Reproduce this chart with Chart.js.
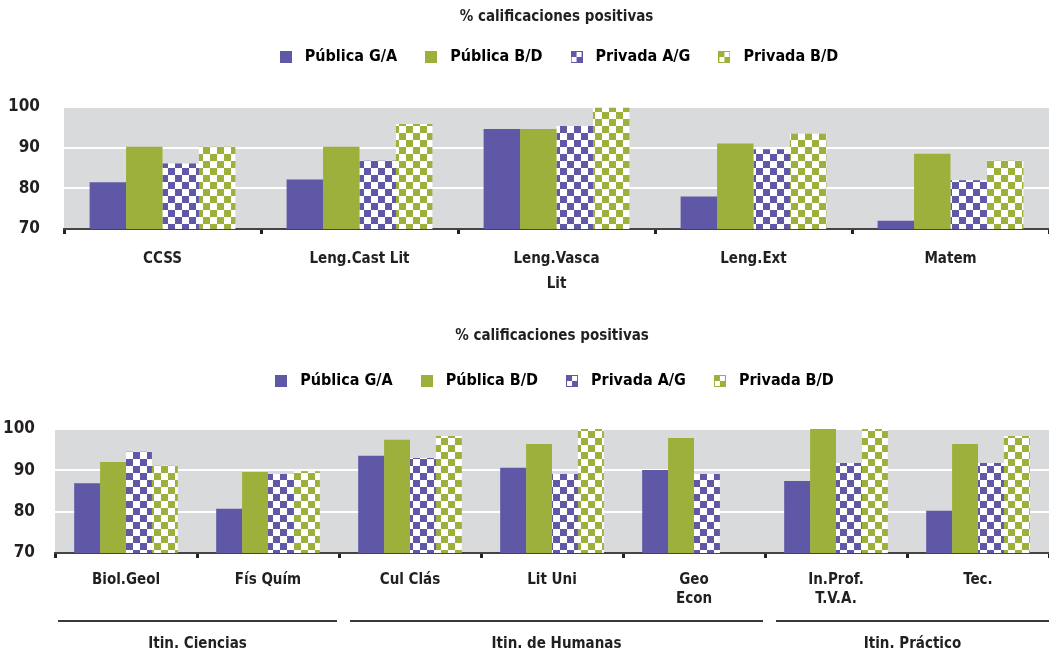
<!DOCTYPE html>
<html>
<head>
<meta charset="utf-8">
<script src="https://cdn.jsdelivr.net/npm/chart.js@4/dist/chart.umd.min.js"></script>
<style>
  html, body { margin: 0; padding: 0; background: #fff; }
  #wrap { position: relative; width: 1049px; height: 656px; }
  canvas { position: absolute; left: 0; }
  #top { top: 0; }
  #bottom { top: 319px; }
</style>
</head>
<body>
<div id="wrap">
  <canvas id="top" width="1049" height="300"></canvas>
  <canvas id="bottom" width="1049" height="337"></canvas>
</div>
<script>
// --- data ---
const seriesNames = ['Pública G/A', 'Pública B/D', 'Privada A/G', 'Privada B/D'];

const topCats = ['CCSS', 'Leng.Cast Lit', ['Leng.Vasca', 'Lit'], 'Leng.Ext', 'Matem'];
const topPubGA = [81.5, 82.2, 94.6, 78.0, 72.0];
const topPubBD = [90.2, 90.2, 94.6, 91.0, 88.5];
const topPrivAG = [86.1, 86.8, 95.3, 89.6, 82.0];
const topPrivBD = [90.2, 95.8, 99.8, 93.4, 86.8];

const botCats = ['Biol.Geol', 'Fís Quím', 'Cul Clás', 'Lit Uni', ['Geo', 'Econ'], ['In.Prof.', 'T.V.A.'], 'Tec.'];
const botPubGA = [86.9, 80.7, 93.5, 90.6, 90.1, 87.4, 80.2];
const botPubBD = [92.0, 89.6, 97.4, 96.4, 97.8, 100, 96.4];
const botPrivAG = [94.5, 89.1, 93.0, 89.1, 89.1, 91.8, 91.8];
const botPrivBD = [91.1, 89.8, 98.3, 100, null, 100, 98.3];

const groupNames = ['Itin. Ciencias', 'Itin. de Humanas', 'Itin. Práctico'];
const groupFirst = [0, 2, 5];
const groupLast = [1, 4, 6];

const yTicks = [70, 80, 90, 100];

// --- style ---
const PURPLE = '#5e58a6';
const GREEN = '#9db03b';
const TEXT = '#231f20';
const FONT = '"Liberation Sans Narrow", "DejaVu Sans Condensed", "Open Sans", sans-serif';

function checker(ctx, color) {
    const c = document.createElement('canvas');
    c.width = c.height = 14;
    const g = c.getContext('2d');
    g.fillStyle = '#fff';
    g.fillRect(0, 0, 14, 14);
    g.fillStyle = color;
    g.fillRect(0, 0, 7, 7);
    g.fillRect(7, 7, 7, 7);
    return ctx.createPattern(c, 'repeat');
}

function legendIcon(color, checked) {
    const c = document.createElement('canvas');
    c.width = c.height = 12;
    const g = c.getContext('2d');
    g.fillStyle = color;
    g.fillRect(0, 0, 12, 12);
    if (checked) {
        g.fillStyle = '#fff';
        g.fillRect(6, 1, 5, 5);
        g.fillRect(1, 6, 5, 5);
    }
    return c;
}

const icons = [
    legendIcon(PURPLE, false), legendIcon(GREEN, false),
    legendIcon(PURPLE, true), legendIcon(GREEN, true)
];

const plotBg = {
    id: 'plotBg',
    beforeDraw(chart) {
        const { ctx, chartArea: a } = chart;
        ctx.save();
        ctx.fillStyle = '#d9dadc';
        ctx.fillRect(a.left, a.top, a.right - a.left, a.bottom - a.top);
        ctx.restore();
    }
};

const groupLines = {
    id: 'groupLines',
    afterDraw(chart) {
        const { ctx } = chart;
        const x = chart.scales.x;
        const half = (x.right - x.left) / botCats.length / 2;
        ctx.save();
        ctx.strokeStyle = '#3a3a3a';
        ctx.lineWidth = 2;
        ctx.fillStyle = TEXT;
        ctx.font = 'bold 15px ' + FONT;
        ctx.textAlign = 'center';
        ctx.textBaseline = 'middle';
        groupNames.forEach((name, i) => {
            const l = x.getPixelForValue(groupFirst[i]) - half + (i === 0 ? 3 : 11);
            const r = x.getPixelForValue(groupLast[i]) + half - (i === groupNames.length - 1 ? 0 : 2);
            ctx.beginPath();
            ctx.moveTo(l, 302);
            ctx.lineTo(r, 302);
            ctx.stroke();
            ctx.fillText(name, (l + r) / 2, 325);
        });
        ctx.restore();
    }
};

function makeChart(id, labels, values, opts) {
    const canvas = document.getElementById(id);
    const ctx = canvas.getContext('2d');
    const fills = [PURPLE, GREEN, checker(ctx, PURPLE), checker(ctx, GREEN)];
    return new Chart(ctx, {
        type: 'bar',
        data: {
            labels: labels,
            datasets: values.map((v, i) => ({
                label: seriesNames[i],
                data: v,
                backgroundColor: fills[i],
                borderWidth: 0,
                categoryPercentage: opts.catPct,
                barPercentage: 1
            }))
        },
        options: {
            responsive: false,
            devicePixelRatio: 1,
            animation: false,
            layout: { padding: 0 },
            plugins: {
                title: {
                    display: true,
                    fullSize: false,
                    text: '% calificaciones positivas',
                    color: TEXT,
                    font: { family: FONT, size: 15, weight: 'bold' },
                    padding: { top: 8, bottom: opts.titleGap }
                },
                legend: {
                    fullSize: false,
                    labels: {
                        color: TEXT,
                        font: { family: FONT, size: 16, weight: 'bold' },
                        usePointStyle: true,
                        pointStyleWidth: 22,
                        boxWidth: 12,
                        boxHeight: 12,
                        padding: 23,
                        generateLabels: (chart) => chart.data.datasets.map((d, i) => ({
                            text: d.label,
                            pointStyle: icons[i],
                            fillStyle: PURPLE,
                            lineWidth: 0,
                            datasetIndex: i
                        }))
                    }
                },
                tooltip: { enabled: false }
            },
            scales: {
                // empty axis above the plot, only to keep the gap under the legend
                gap: {
                    type: 'category',
                    position: 'top',
                    afterFit: (s) => { s.height = opts.gap; },
                    grid: { display: false },
                    border: { display: false },
                    ticks: { display: false }
                },
                x: {
                    afterFit: (s) => { s.height = opts.xHeight; },
                    border: { color: '#444', width: 2 },
                    grid: {
                        offset: true,
                        drawOnChartArea: false,
                        tickLength: 5,
                        tickWidth: 3,
                        tickColor: '#222'
                    },
                    ticks: {
                        color: TEXT,
                        font: { family: FONT, size: 15, weight: 'bold', lineHeight: opts.lineH },
                        padding: 12,
                        maxRotation: 0,
                        autoSkip: false
                    }
                },
                y: {
                    min: 70,
                    max: 100,
                    afterFit: (s) => { s.width = opts.yWidth; },
                    afterBuildTicks: (s) => { s.ticks = yTicks.map(v => ({ value: v })); },
                    border: { display: false },
                    grid: { color: '#fff', lineWidth: 2, drawTicks: false },
                    ticks: {
                        color: TEXT,
                        font: { family: FONT, size: 17, weight: 'bold' },
                        padding: opts.yPad
                    }
                }
            }
        },
        plugins: opts.plugins
    });
}

makeChart('top', topCats, [topPubGA, topPubBD, topPrivAG, topPrivBD], {
    catPct: 0.74, xHeight: 71, yWidth: 64, yPad: 24, lineH: 1.7, titleGap: 0, gap: 32,
    plugins: [plotBg]
});

makeChart('bottom', botCats, [botPubGA, botPubBD, botPrivAG, botPrivBD], {
    catPct: 0.73, xHeight: 103, yWidth: 55, yPad: 20, lineH: 1.3, titleGap: 5, gap: 30,
    plugins: [plotBg, groupLines]
});
</script>
</body>
</html>
